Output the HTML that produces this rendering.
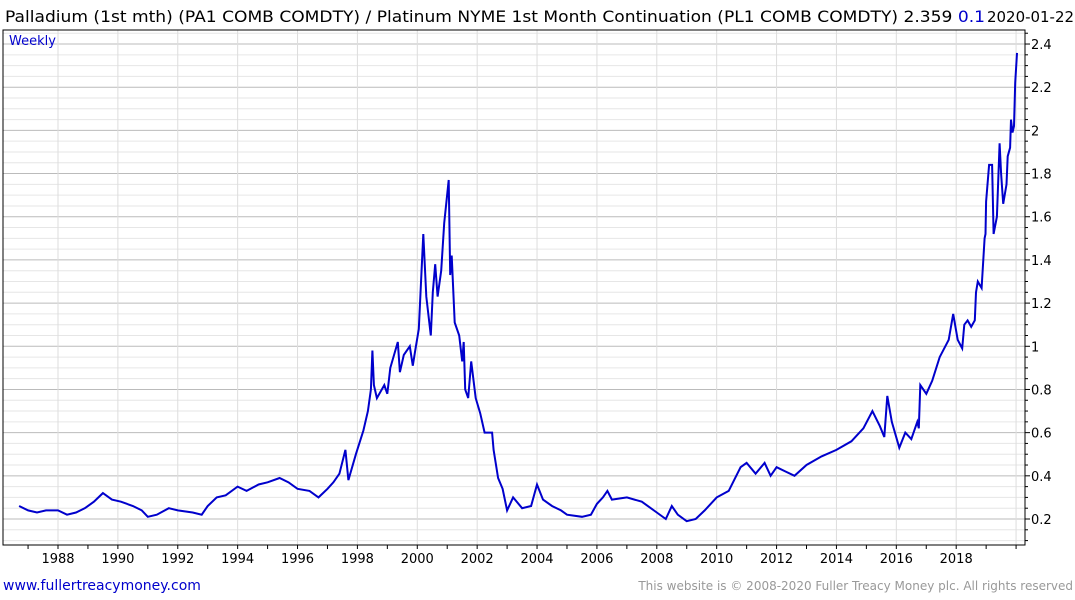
<!DOCTYPE html>
<html><head><meta charset="utf-8"><style>
body{margin:0;background:#fff;}
svg{display:block;font-family:"DejaVu Sans","Liberation Sans",sans-serif;}
</style></head><body>
<svg id="chart" width="1075" height="600">
<text x="5" y="22" font-size="16" fill="#000" textLength="980" lengthAdjust="spacingAndGlyphs">Palladium (1st mth)  (PA1 COMB COMDTY) / Platinum NYME 1st Month Continuation (PL1 COMB COMDTY) 2.359 <tspan fill="#0000cc">0.1</tspan></text>
<text x="1074" y="22" font-size="15" text-anchor="end" fill="#000" textLength="87" lengthAdjust="spacingAndGlyphs">2020-01-22</text>
<g id="grid"></g>
<rect x="3" y="30" width="1022" height="515" fill="none" stroke="#000" stroke-width="1"/>
<text x="9" y="45" font-size="13" fill="#0000cc">Weekly</text>
<g id="axes"></g>
<path id="line" fill="none" stroke="#0000cc" stroke-width="2"/>
<text x="3" y="590" font-size="14" fill="#0000cc">www.fullertreacymoney.com</text>
<text x="1073" y="590" font-size="12" fill="#999" text-anchor="end">This website is © 2008-2020 Fuller Treacy Money plc. All rights reserved</text>
</svg>
<script>
const years=[1986.7,1987.0,1987.3,1987.6,1988.0,1988.3,1988.6,1988.9,1989.2,1989.5,1989.8,1990.1,1990.5,1990.8,1991.0,1991.3,1991.7,1992.0,1992.5,1992.8,1993.0,1993.3,1993.6,1994.0,1994.3,1994.7,1995.0,1995.4,1995.7,1996.0,1996.4,1996.7,1997.0,1997.2,1997.4,1997.6,1997.7,1997.95,1998.2,1998.35,1998.45,1998.5,1998.55,1998.65,1998.9,1999.0,1999.1,1999.35,1999.42,1999.55,1999.75,1999.85,1999.93,2000.05,2000.2,2000.3,2000.4,2000.45,2000.52,2000.6,2000.68,2000.8,2000.9,2001.05,2001.1,2001.15,2001.25,2001.4,2001.5,2001.55,2001.6,2001.7,2001.8,2001.95,2002.1,2002.25,2002.5,2002.55,2002.7,2002.85,2003.0,2003.2,2003.5,2003.8,2004.0,2004.2,2004.5,2004.8,2005.0,2005.5,2005.8,2006.0,2006.2,2006.35,2006.5,2007.0,2007.5,2008.0,2008.3,2008.5,2008.7,2009.0,2009.3,2009.6,2010.0,2010.4,2010.8,2011.0,2011.3,2011.6,2011.8,2012.0,2012.3,2012.6,2013.0,2013.5,2014.0,2014.5,2014.9,2015.2,2015.45,2015.6,2015.7,2015.85,2016.1,2016.3,2016.5,2016.7,2016.75,2016.8,2017.0,2017.2,2017.45,2017.75,2017.9,2018.05,2018.2,2018.27,2018.38,2018.5,2018.62,2018.66,2018.72,2018.85,2018.95,2018.98,2019.0,2019.1,2019.2,2019.25,2019.36,2019.45,2019.5,2019.57,2019.68,2019.72,2019.8,2019.83,2019.88,2019.93,2019.97,2020.03];
const values=[0.26,0.24,0.23,0.24,0.24,0.22,0.23,0.25,0.28,0.32,0.29,0.28,0.26,0.24,0.21,0.22,0.25,0.24,0.23,0.22,0.26,0.30,0.31,0.35,0.33,0.36,0.37,0.39,0.37,0.34,0.33,0.30,0.34,0.37,0.41,0.52,0.38,0.50,0.61,0.70,0.80,0.98,0.82,0.76,0.82,0.78,0.90,1.02,0.88,0.96,1.00,0.91,0.98,1.08,1.52,1.23,1.11,1.05,1.25,1.38,1.23,1.35,1.57,1.77,1.33,1.42,1.11,1.05,0.93,1.02,0.80,0.76,0.93,0.76,0.69,0.60,0.60,0.52,0.39,0.34,0.24,0.30,0.25,0.26,0.36,0.29,0.26,0.24,0.22,0.21,0.22,0.27,0.30,0.33,0.29,0.30,0.28,0.23,0.20,0.26,0.22,0.19,0.20,0.24,0.30,0.33,0.44,0.46,0.41,0.46,0.40,0.44,0.42,0.40,0.45,0.49,0.52,0.56,0.62,0.70,0.63,0.58,0.77,0.65,0.53,0.60,0.57,0.65,0.62,0.82,0.78,0.84,0.95,1.03,1.15,1.03,0.99,1.10,1.12,1.09,1.12,1.25,1.30,1.27,1.50,1.52,1.67,1.84,1.84,1.52,1.60,1.94,1.80,1.66,1.75,1.88,1.92,2.05,1.99,2.02,2.22,2.359];
const yTicks=["0.2","0.4","0.6","0.8","1","1.2","1.4","1.6","1.8","2","2.2","2.4"];
const xTicks=["1988","1990","1992","1994","1996","1998","2000","2002","2004","2006","2008","2010","2012","2014","2016","2018"];
const xs=t=>58+(t-1988)*29.94;
const ys=v=>519-(v-0.2)*215.9;
const NS="http://www.w3.org/2000/svg";
const grid=document.getElementById('grid'),axes=document.getElementById('axes');
function mk(p,tag,a){const e=document.createElementNS(NS,tag);for(const k in a)e.setAttribute(k,a[k]);p.appendChild(e);return e;}
for(let v=0.1;v<=2.46;v+=0.05){const y=ys(v);const major=Math.abs(v*5-Math.round(v*5))<1e-6;
 const l=mk(grid,'line',{x1:3,x2:1025,y1:y,y2:y,stroke:major?'#bbb':'#e6e6e6','stroke-width':1});
 
 
 const tk=mk(axes,'line',{x1:1025,x2:major?1030:1028,y1:y,y2:y,stroke:'#000'});
 
 }
yTicks.forEach(s=>{const y=ys(parseFloat(s));
 const t=mk(axes,'text',{x:1031,y:y+5,'font-size':13,fill:'#000'});t.textContent=s;
 
 });
for(let yr=1987;yr<=2020;yr++){const x=xs(yr);
 const tk=mk(axes,'line',{x1:x,x2:x,y1:545,y2:549,stroke:'#000'});
 
 }
xTicks.concat(["2020"]).forEach(s=>{const x=xs(parseFloat(s));
 const l=mk(grid,'line',{x1:x,x2:x,y1:30,y2:545,stroke:'#ddd'});
 
 });
xTicks.forEach(s=>{const x=xs(parseFloat(s));
 const t=mk(axes,'text',{x:x,y:563,'font-size':13,'text-anchor':'middle',fill:'#000'});t.textContent=s;
 
 });
document.getElementById('line').setAttribute('d',years.map((t,i)=>(i?'L':'M')+xs(t).toFixed(1)+' '+ys(values[i]).toFixed(1)).join(' '));
</script>
</body></html>
